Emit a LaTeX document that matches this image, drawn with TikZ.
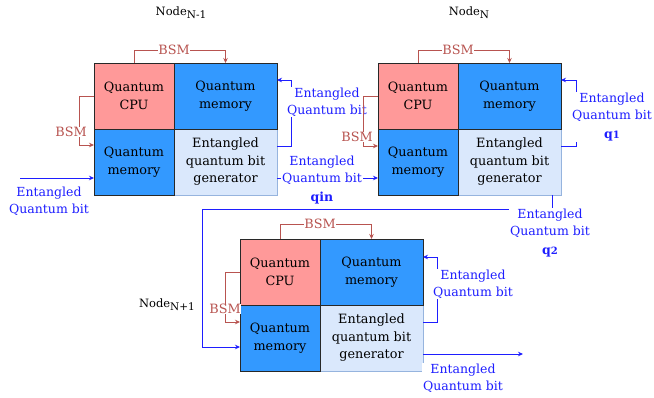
\documentclass[tikz,border=0pt]{standalone}
\usepackage{fontspec}
\setmainfont{DejaVu Serif}
\usetikzlibrary{positioning,calc,arrows.meta}
\usepackage{xcolor}
\definecolor{cpupink}{RGB}{255,153,153}
\definecolor{memblue}{RGB}{51,153,255}
\definecolor{genblue}{RGB}{218,232,252}
\definecolor{genedge}{RGB}{150,180,222}
\definecolor{celledge}{RGB}{40,40,40}
\definecolor{bsmred}{RGB}{184,84,80}
\definecolor{qbitblue}{RGB}{30,30,255}

% lowered index after "Node"
\newcommand{\lowsub}[1]{\raisebox{-0.45ex}{\fontsize{10.5}{10.5}\selectfont #1}}

\begin{document}
\begin{tikzpicture}[
    x=1pt, y=-1pt,
    cell/.style={rectangle, draw=celledge, line width=0.8pt, outer sep=0pt, inner sep=1pt,
                 minimum height=66pt, align=center, text=black,
                 font=\fontsize{12.8}{17.5}\selectfont},
    narrow/.style={minimum width=80pt},
    wide/.style={minimum width=103pt},
    cpu/.style={cell, narrow, fill=cpupink},
    qmem/.style={cell, fill=memblue},
    gen/.style={cell, wide, fill=genblue, draw=genedge},
    bsmarrow/.style={-{Stealth[length=5pt,width=4.5pt]}, line width=0.8pt, draw=bsmred},
    qbitarrow/.style={-{Stealth[length=5pt,width=4.5pt]}, line width=0.8pt, draw=qbitblue},
    qbitline/.style={line width=0.8pt, draw=qbitblue},
    bsmlabel/.style={fill=white, inner sep=0.5pt, text=bsmred, font=\fontsize{12.8}{15}\selectfont},
    qbitlabel/.style={fill=white, inner sep=1pt, align=center, text=qbitblue,
                      font=\fontsize{12.5}{17}\selectfont},
    title/.style={font=\fontsize{11.5}{13}\selectfont}
]
\useasboundingbox (0,0) rectangle (654,397);

% Node N-1
\node[cpu] (cpuA) at (134,96) {Quantum\\CPU};
\node[gen, below right=0pt of cpuA] (genA) {Entangled\\quantum bit\\generator};
\node[qmem, wide, right=0pt of cpuA] (memA1) {Quantum\\memory};
\node[qmem, narrow, below=0pt of cpuA] (memA2) {Quantum\\memory};
\node[title] (titleA) at (181,13) {Node\lowsub{N-1}};

\draw[bsmarrow] (cpuA.north) -- ++(0,-13) -| (memA1.north);
\node[bsmlabel] (bsmtopA) at ([yshift=13pt]cpuA.north east) {BSM};
\draw[bsmarrow] (cpuA.west) -- ++(-15,0) |- ([yshift=17pt]memA2.west);
\node[bsmlabel] (bsmleftA) at (71,132) {BSM};

\draw[qbitarrow] ([yshift=16pt]genA.east) -- ++(14,0) |- ([yshift=16pt]memA1.east);
\node[qbitlabel] (fbA) at (327,102) {Entangled\\Quantum bit};

\coordinate (inA) at (20,178);
\draw[qbitarrow] (inA) -- (inA -| memA2.west);
\node[qbitlabel] (inlblA) at (49,201) {Entangled\\Quantum bit};

% Node N
\node[cpu] (cpuB) at (418,96) {Quantum\\CPU};
\node[gen, below right=0pt of cpuB] (genB) {Entangled\\quantum bit\\generator};
\node[qmem, wide, right=0pt of cpuB] (memB1) {Quantum\\memory};
\node[qmem, narrow, below=0pt of cpuB] (memB2) {Quantum\\memory};
\node[title] (titleB) at (469,13) {Node\lowsub{N}};

\draw[bsmarrow] (cpuB.north) -- ++(0,-13) -| (memB1.north);
\node[bsmlabel] (bsmtopB) at ([yshift=13pt]cpuB.north east) {BSM};
\draw[bsmarrow] (cpuB.west) -- ++(-15,0) |- ([yshift=16pt]memB2.west);
\node[bsmlabel] (bsmleftB) at (357,137) {BSM};

\draw[qbitarrow] ([yshift=16pt]genB.east) -- ++(15,0) |- ([yshift=16pt]memB1.east);
\node[qbitlabel] (fbB) at (612,117) {Entangled\\Quantum bit\\[2pt]\textbf{q{\fontsize{10}{10}\selectfont 1}}};

% qin: generator of N-1 to memory of N
\draw[qbitarrow] ([yshift=-16pt]genA.east) -- ([yshift=-16pt]memB2.west);
\node[qbitlabel] (qinlbl) at (322,180) {Entangled\\Quantum bit\\[2pt]\textbf{qin}};

% Node N+1
\node[cpu] (cpuC) at (280,272) {Quantum\\CPU};
\node[gen, below right=0pt of cpuC] (genC) {Entangled\\quantum bit\\generator};
\node[qmem, wide, right=0pt of cpuC] (memC1) {Quantum\\memory};
\node[qmem, narrow, below=0pt of cpuC] (memC2) {Quantum\\memory};
\node[title] (titleC) at (167,305) {Node\lowsub{N+1}};

\draw[bsmarrow] (cpuC.north) -- ++(0,-15) -| (memC1.north);
\node[bsmlabel] (bsmtopC) at ([yshift=15pt]cpuC.north east) {BSM};
\draw[bsmarrow] (cpuC.west) -- ++(-15,0) |- ([yshift=16pt]memC2.west);
\node[bsmlabel] (bsmleftC) at (225,309) {BSM};

\draw[qbitarrow] ([yshift=16pt]genC.east) -- ++(14,0) |- ([yshift=15pt]memC1.east);
\node[qbitlabel] (fbC) at (473,284) {Entangled\\Quantum bit};

% q2: generator of N down to memory of N+1
\coordinate (railC) at (202,209);
\draw[qbitarrow] ([xshift=43pt]genB.south) |- (railC) |- ([yshift=-9pt]memC2.west);
\node[qbitlabel] (q2lbl) at (550,233) {Entangled\\Quantum bit\\[2pt]\textbf{q{\fontsize{10}{10}\selectfont 2}}};

\coordinate (outC) at (523,354);
\draw[qbitarrow] ([yshift=-16pt]genC.east) -- (outC);
\node[qbitlabel] (outlblC) at (463,378) {Entangled\\Quantum bit};

\end{tikzpicture}
\end{document}
